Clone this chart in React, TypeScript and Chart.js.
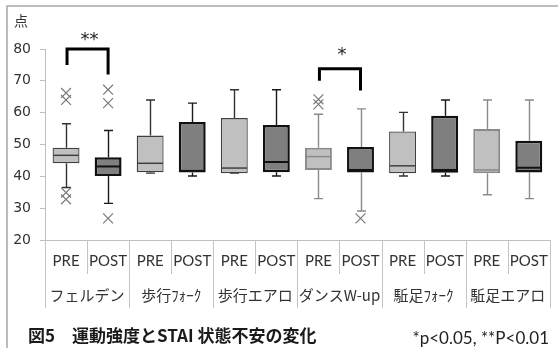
import React, { useEffect, useRef } from 'react';
import { Chart, registerables } from 'chart.js';

Chart.register(...registerables);

// ---- data ----
const groups = ['フェルデン', '歩行ﾌｫｰｸ', '歩行エアロ', 'ダンスW-up', '駈足ﾌｫｰｸ', '駈足エアロ'];
const phases = ['PRE', 'POST'];
const yMin = 20;
const yMax = 80;
const yStep = 10;
const unitLabel = '点';

const whiskerLow = [36.5, 31.5, 41, 40.1, 41, 40.1, 33, 29.1, 40.1, 40.1, 34.2, 33];
const q1 = [44.1, 40.1, 41.3, 41.2, 41, 41.3, 42, 41.2, 41, 41.1, 41, 41.2];
const median = [46.6, 43.1, 44.1, 41.7, 42.6, 44.5, 46.2, 42, 43.3, 42, 42, 42.7];
const q3 = [49, 46, 52.8, 57.1, 58.3, 56.1, 49, 49.2, 54.1, 59, 54.9, 51.2];
const whiskerHigh = [56.5, 54.4, 64, 63, 67.2, 67.2, 59.5, 61.2, 60.1, 64, 64, 64];

const outlierBox = [0, 0, 0, 0, 1, 1, 1, 6, 6, 7];
const outlierValue = [66.2, 64, 34.9, 32.8, 67.2, 63, 26.8, 64.2, 62.6, 26.8];

const sigFrom = [0, 6];
const sigTo = [1, 7];
const sigTop = [80, 73.8];
const sigFromEnd = [75, 70];
const sigToEnd = [72, 67];
const sigText = ['**', '*'];
const sigTextValue = [83.6, 78.8];

const captionTitle = '図5　運動強度とSTAI 状態不安の変化';
const captionNote = '*p<0.05, **P<0.01';

// ---- derived ----
const labels = groups.flatMap((g) => phases.map((p) => `${g}|${p}`));
const isPost = labels.map((_, i) => i % 2 === 1);
const darkPre = [true, true, true, false, true, false];
const boxFill = labels.map((_, i) => (isPost[i] ? '#7f7f7f' : '#c0c0c0'));
const boxBorder = labels.map((_, i) =>
  isPost[i] ? '#111111' : darkPre[Math.floor(i / 2)] ? '#404040' : '#8a8a8a'
);
const boxBorderWidth = labels.map((_, i) => (isPost[i] ? 2.5 : darkPre[Math.floor(i / 2)] ? 1.3 : 2));
const whiskerColor = labels.map((_, i) => {
  const g = Math.floor(i / 2);
  if (g === 3 || g === 5) return '#8a8a8a';
  return isPost[i] ? '#1a1a1a' : '#333333';
});

const LABEL_FONT = "Lato, 'Noto Sans CJK JP', sans-serif";
const JP_FONT = "'Noto Sans CJK JP', Lato, sans-serif";

const extras = {
  id: 'extras',
  beforeDraw(chart: any) {
    const { ctx, width, height } = chart;
    ctx.save();
    ctx.strokeStyle = '#a6a6a6';
    ctx.lineWidth = 1.5;
    ctx.beginPath();
    ctx.moveTo(7, height);
    ctx.lineTo(7, 6);
    ctx.lineTo(width, 6);
    ctx.stroke();
    ctx.restore();
  },
  beforeDatasetsDraw(chart: any) {
    const { ctx } = chart;
    const x = chart.scales.x;
    const y = chart.scales.y;
    ctx.save();
    labels.forEach((_, i) => {
      const cx = Math.round(x.getPixelForValue(i)) + 0.5;
      const yHi = y.getPixelForValue(whiskerHigh[i]);
      const yLo = y.getPixelForValue(whiskerLow[i]);
      ctx.strokeStyle = whiskerColor[i];
      ctx.lineWidth = 1.4;
      ctx.beginPath();
      ctx.moveTo(cx, y.getPixelForValue(q3[i]));
      ctx.lineTo(cx, yHi);
      ctx.moveTo(cx, y.getPixelForValue(q1[i]));
      ctx.lineTo(cx, yLo);
      ctx.moveTo(cx - 4.5, yHi);
      ctx.lineTo(cx + 4.5, yHi);
      ctx.moveTo(cx - 4.5, yLo);
      ctx.lineTo(cx + 4.5, yLo);
      ctx.stroke();
    });
    ctx.restore();
  },
  afterDatasetsDraw(chart: any) {
    const { ctx, chartArea } = chart;
    const x = chart.scales.x;
    const y = chart.scales.y;
    const meta = chart.getDatasetMeta(0);
    ctx.save();
    // medians
    labels.forEach((_, i) => {
      const bar = meta.data[i];
      const w = bar.width;
      const bw = boxBorderWidth[i];
      const my = y.getPixelForValue(median[i]);
      ctx.strokeStyle = boxBorder[i];
      ctx.lineWidth = isPost[i] ? 2 : 1.5;
      ctx.beginPath();
      ctx.moveTo(bar.x - w / 2 + bw / 2, my);
      ctx.lineTo(bar.x + w / 2 - bw / 2, my);
      ctx.stroke();
    });
    // significance brackets
    sigFrom.forEach((from, k) => {
      const x1 = x.getPixelForValue(from) + 1;
      const x2 = x.getPixelForValue(sigTo[k]);
      const top = y.getPixelForValue(sigTop[k]);
      ctx.strokeStyle = '#000';
      ctx.lineWidth = 3;
      ctx.lineJoin = 'miter';
      ctx.beginPath();
      ctx.moveTo(x1, y.getPixelForValue(sigFromEnd[k]));
      ctx.lineTo(x1, top);
      ctx.lineTo(x2, top);
      ctx.lineTo(x2, y.getPixelForValue(sigToEnd[k]));
      ctx.stroke();
      ctx.fillStyle = '#222';
      ctx.font = "18px 'DejaVu Sans', sans-serif";
      ctx.textAlign = 'center';
      ctx.textBaseline = 'middle';
      ctx.fillText(sigText[k], (x1 + x2) / 2 + 2, y.getPixelForValue(sigTextValue[k]) + 3);
    });
    // unit label
    ctx.fillStyle = '#333';
    ctx.font = `14px ${JP_FONT}`;
    ctx.textAlign = 'center';
    ctx.textBaseline = 'middle';
    ctx.fillText(unitLabel, chartArea.left - 24, chartArea.top - 28);

    // multi-level x labels
    const bottom = chartArea.bottom;
    const n = labels.length;
    const catW = (chartArea.right - chartArea.left) / n;
    ctx.strokeStyle = '#c4c4c4';
    ctx.lineWidth = 1;
    for (let i = 0; i <= n; i++) {
      const bx = Math.round(chartArea.left + i * catW) + 0.5;
      const long = i % 2 === 0;
      ctx.beginPath();
      ctx.moveTo(bx, bottom);
      ctx.lineTo(bx, bottom + (long ? 68 : 34));
      ctx.stroke();
    }
    ctx.fillStyle = '#333';
    ctx.textBaseline = 'middle';
    ctx.textAlign = 'center';
    labels.forEach((_, i) => {
      ctx.font = `15px ${LABEL_FONT}`;
      ctx.fillText(phases[i % 2], x.getPixelForValue(i), bottom + 21);
    });
    groups.forEach((g, gi) => {
      ctx.font = `15px ${JP_FONT}`;
      const cx = (x.getPixelForValue(gi * 2) + x.getPixelForValue(gi * 2 + 1)) / 2;
      ctx.fillText(g, cx, bottom + 55);
    });
    ctx.restore();
  },
};

export default function App() {
  const canvasRef = useRef<HTMLCanvasElement | null>(null);

  useEffect(() => {
    document.body.style.margin = '0';
    const canvas = canvasRef.current;
    if (!canvas) return;
    const chart = new Chart(canvas, {
      type: 'bar',
      data: {
        labels,
        datasets: [
          {
            type: 'bar',
            data: labels.map((_, i) => [q1[i], q3[i]]),
            backgroundColor: boxFill,
            borderColor: boxBorder,
            borderWidth: boxBorderWidth,
            borderSkipped: false,
            categoryPercentage: 1,
            barPercentage: 0.64,
          } as any,
          {
            type: 'scatter',
            data: outlierBox.map((b, k) => ({ x: labels[b], y: outlierValue[k] })),
            pointStyle: 'crossRot',
            radius: 7,
            borderColor: '#7a7a7a',
            borderWidth: 1.2,
            backgroundColor: 'transparent',
          } as any,
        ],
      },
      options: {
        animation: false,
        responsive: false,
        maintainAspectRatio: false,
        layout: { padding: { top: 49, right: 3, left: 0, bottom: 0 } },
        plugins: { legend: { display: false }, tooltip: { enabled: false } },
        scales: {
          x: {
            type: 'category',
            offset: true,
            grid: { display: false },
            border: { display: true, color: '#bfbfbf', width: 1 },
            ticks: { display: false },
            afterFit: (s: any) => {
              s.height = 108;
            },
          },
          y: {
            type: 'linear',
            min: yMin,
            max: yMax,
            ticks: {
              stepSize: yStep,
              padding: 9,
              color: '#333',
              font: { family: "'DejaVu Sans', sans-serif", size: 14 },
            },
            grid: { display: true, drawOnChartArea: false, drawTicks: true, tickLength: 5, color: '#bfbfbf' },
            border: { display: true, color: '#bfbfbf', width: 1 },
            afterFit: (s: any) => {
              s.width = 45;
            },
          },
        },
      } as any,
      plugins: [extras],
    });
    return () => chart.destroy();
  }, []);

  return (
    <div style={{ position: 'relative', width: 558, height: 348, overflow: 'hidden' }}>
      <canvas ref={canvasRef} width={558} height={348} style={{ display: 'block' }} />
      <span
        style={{
          position: 'absolute',
          left: 28,
          top: 323,
          fontFamily: JP_FONT,
          fontWeight: 'bold',
          fontSize: 17,
          lineHeight: '24px',
          color: '#1a1a1a',
          whiteSpace: 'pre',
        }}
      >
        {captionTitle}
      </span>
      <span
        style={{
          position: 'absolute',
          right: 9,
          top: 326,
          fontFamily: LABEL_FONT,
          fontSize: 17,
          lineHeight: '24px',
          color: '#222',
          whiteSpace: 'pre',
        }}
      >
        {captionNote}
      </span>
    </div>
  );
}
